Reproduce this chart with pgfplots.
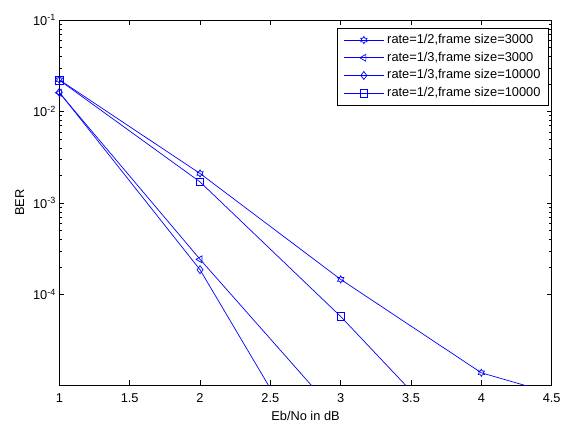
\documentclass[border=0pt]{standalone}
\usepackage{fontspec}
\setmainfont{Liberation Sans}
\usepackage{pgfplots}
\pgfplotsset{compat=1.18}
\pgfdeclareplotmark{hexagram}{%
  \pgfpathmoveto{\pgfpointpolar{90}{\pgfplotmarksize}}%
  \pgfpathlineto{\pgfpointpolar{120}{0.577\pgfplotmarksize}}%
  \pgfpathlineto{\pgfpointpolar{150}{\pgfplotmarksize}}%
  \pgfpathlineto{\pgfpointpolar{180}{0.577\pgfplotmarksize}}%
  \pgfpathlineto{\pgfpointpolar{210}{\pgfplotmarksize}}%
  \pgfpathlineto{\pgfpointpolar{240}{0.577\pgfplotmarksize}}%
  \pgfpathlineto{\pgfpointpolar{270}{\pgfplotmarksize}}%
  \pgfpathlineto{\pgfpointpolar{300}{0.577\pgfplotmarksize}}%
  \pgfpathlineto{\pgfpointpolar{330}{\pgfplotmarksize}}%
  \pgfpathlineto{\pgfpointpolar{0}{0.577\pgfplotmarksize}}%
  \pgfpathlineto{\pgfpointpolar{30}{\pgfplotmarksize}}%
  \pgfpathlineto{\pgfpointpolar{60}{0.577\pgfplotmarksize}}%
  \pgfpathclose
  \pgfusepathqstroke}
\begin{document}
\begin{tikzpicture}
\begin{axis}[
  scale only axis,
  width=491.7pt, height=365pt,
  ymode=log,
  xmin=1, xmax=4.5,
  ymin=1.01e-5, ymax=1e-1,
  xtick={1,1.5,2,2.5,3,3.5,4,4.5},
  xticklabels={1,1.5,2,2.5,3,3.5,4,4.5},
  ytick={1e-4,1e-3,1e-2,1e-1},
  yticklabels={10\textsuperscript{-4},10\textsuperscript{-3},10\textsuperscript{-2},10\textsuperscript{-1}},
  tick align=inside,
  major tick length=5pt,
  minor tick length=2.8pt,
  tick style={black, line width=0.5pt},
  axis line style={black, line width=0.7pt},
  ticklabel style={font=\fontsize{12.8}{15}\selectfont},
  xticklabel style={yshift=-4.5pt},
  xlabel={Eb/No in dB},
  ylabel={BER},
  label style={font=\fontsize{12.8}{15}\selectfont},
  xlabel style={yshift=-2pt},
  ylabel style={yshift=2pt},
  legend style={at={(rel axis cs:1,1)}, anchor=north east, xshift=-3pt, yshift=-8pt,
    draw=black, line width=0.5pt, fill=white,
    font=\fontsize{12.8}{15}\selectfont, row sep=1.2pt, column sep=1pt,
    inner xsep=6pt, inner ysep=3.5pt,
    nodes={inner sep=2pt, text height=9.5pt, text depth=3pt}},
  legend cell align=left,
  legend image code/.code={%
    \draw[color=blue, line width=0.7pt, mark indices={2}] plot coordinates {(0pt,0pt) (20pt,0pt) (40pt,0pt)};},
  every axis plot/.append style={blue, line width=0.7pt, mark options={solid, line width=0.7pt}},
]
\addplot[mark=hexagram, mark size=3.6pt, mark indices={1,2,3,4}] coordinates {
  (1,2.22e-2) (2,2.1e-3) (3,1.46e-4) (4,1.39e-5) (5,5.0e-6)};
\addlegendentry{rate=1/2,frame size=3000}
\addplot[mark=triangle, mark size=4pt, mark options={rotate=90}, mark indices={1,2}] coordinates {
  (1,1.6e-2) (2,2.42e-4) (3,4.4e-6)};
\addlegendentry{rate=1/3,frame size=3000}
\addplot[mark=diamond, mark size=4pt, mark indices={1,2}] coordinates {
  (1,1.62e-2) (2,1.86e-4) (3,4.7e-7)};
\addlegendentry{rate=1/3,frame size=10000}
\addplot[mark=square, mark size=3.8pt, mark indices={1,2,3}] coordinates {
  (1,2.2e-2) (2,1.7e-3) (3,5.74e-5) (4,1.35e-6)};
\addlegendentry{rate=1/2,frame size=10000}
\end{axis}
\path ([xshift=-59.3pt,yshift=-36pt]current axis.south west) rectangle ([xshift=13.3pt,yshift=20pt]current axis.north east);
\end{tikzpicture}
\end{document}
